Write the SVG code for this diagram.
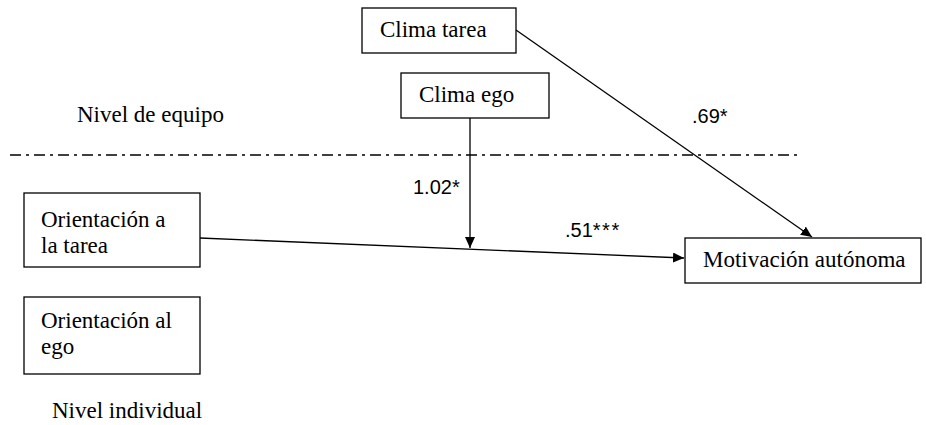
<svg xmlns="http://www.w3.org/2000/svg" width="926" height="425" viewBox="0 0 926 425">
<style>
.box{fill:#fff;stroke:#000;stroke-width:1.3}
.t{font-family:"Liberation Serif","Times New Roman",serif;font-size:23px;fill:#000}
.n{font-family:"Liberation Sans",Arial,sans-serif;font-size:20px;fill:#000}
.c{stroke:#000;stroke-width:1.3;fill:none}
</style>
<defs>
<marker id="ah" markerWidth="12" markerHeight="10" refX="11" refY="5" orient="auto" markerUnits="userSpaceOnUse">
<path d="M0,0 L11,5 L0,10 Z" fill="#000"/>
</marker>
</defs>
<rect width="926" height="425" fill="#fff"/>
<line x1="10" y1="155" x2="802" y2="155" stroke="#000" stroke-width="1.3" stroke-dasharray="11 5 3 5"/>
<text class="t" x="77" y="122">Nivel de equipo</text>
<text class="t" x="52" y="418">Nivel individual</text>
<g id="connectors">
<line class="c" x1="200" y1="238" x2="684" y2="258" marker-end="url(#ah)"/>
<line class="c" x1="470" y1="118" x2="470" y2="248" marker-end="url(#ah)"/>
<line class="c" x1="516" y1="30" x2="812" y2="237" marker-end="url(#ah)"/>
<text class="n" x="692" y="123">.69*</text>
<text class="n" x="413" y="194">1.02*</text>
<text class="n" x="565" y="237">.51<tspan letter-spacing="1.5">***</tspan></text>
</g>
<g id="clima-tarea">
<rect class="box" x="362" y="8" width="154" height="45"/>
<text class="t" x="380" y="37">Clima tarea</text>
</g>
<g id="clima-ego">
<rect class="box" x="401" y="73" width="148" height="45"/>
<text class="t" x="419" y="102">Clima ego</text>
</g>
<g id="orientacion-tarea">
<rect class="box" x="24" y="193" width="176" height="74"/>
<text class="t" x="41" y="227">Orientación a</text>
<text class="t" x="41" y="253">la tarea</text>
</g>
<g id="orientacion-ego">
<rect class="box" x="24" y="297" width="176" height="77"/>
<text class="t" x="41" y="328">Orientación al</text>
<text class="t" x="41" y="354">ego</text>
</g>
<g id="motivacion">
<rect class="box" x="685" y="238" width="236" height="45"/>
<text class="t" x="703" y="267">Motivación autónoma</text>
</g>
</svg>
